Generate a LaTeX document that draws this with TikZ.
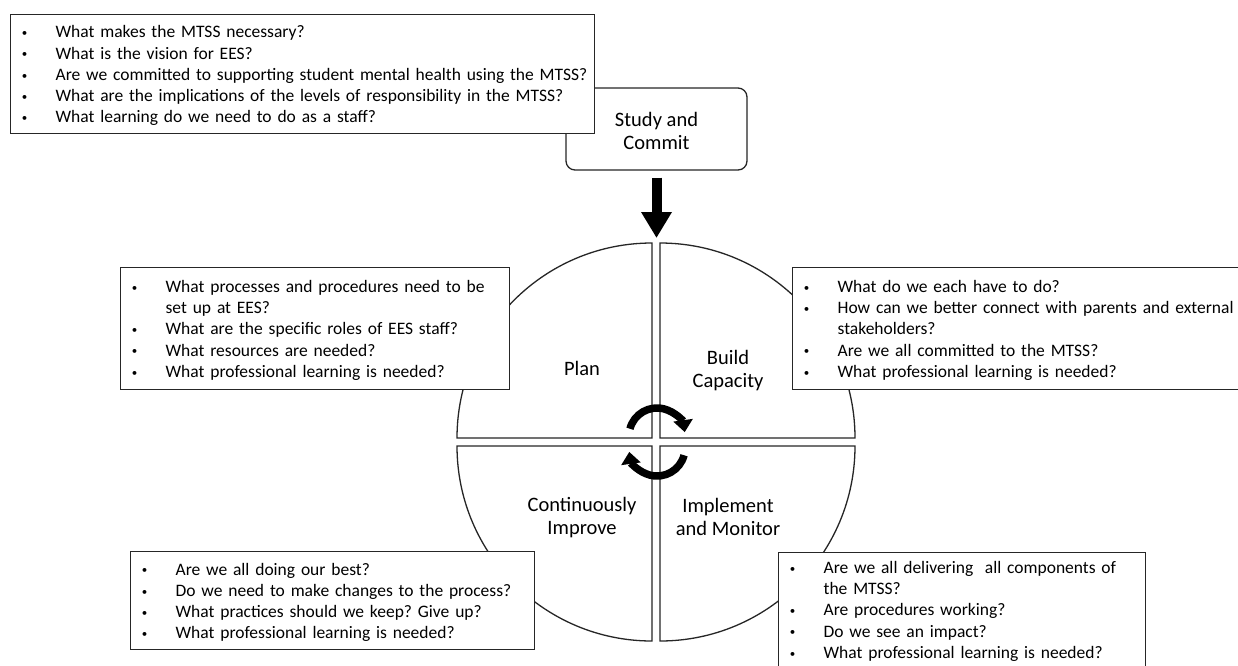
\documentclass[tikz,border=0pt]{standalone}
\usepackage{fontspec}
\setmainfont{Carlito}
\usetikzlibrary{arrows.meta}

\newcommand{\bodyfont}{\frenchspacing\fontsize{17.5}{21.25}\selectfont}
\newcommand{\stagefont}{\fontsize{20.5}{23}\selectfont}
% bullet list: small bullet column, then the item text
\newenvironment{qlist}{\begin{tabular}{@{\hspace{11.2pt}}p{33.8pt}@{}l@{}}}{\end{tabular}}
\newcommand{\qb}{\raisebox{1.2pt}{\fontsize{11}{11}\selectfont\textbullet}}
% lower the list slightly inside its box, keeping the box size
\newcommand{\drop}[1]{\raisebox{-2pt}[\height][\depth]{#1}}

\tikzset{
  outline/.style={draw=black!85, line width=1.3pt},
  qbox/.style={outline, fill=white, anchor=north west, inner sep=0pt,
               align=left, font=\bodyfont},
  stagebox/.style={outline, fill=white, rounded corners=9pt, inner sep=0pt,
                   minimum width=181pt, minimum height=82pt},
  stagelabel/.style={align=center, font=\stagefont, inner sep=0pt},
  quadrant/.style={outline, fill=white},
  bigarrow/.style={line width=10pt, -{Triangle[width=29pt,length=26pt]}},
  cyclearrow/.style={line width=7.5pt, -{Triangle[width=19pt,length=12pt]}}
}

\begin{document}
\begin{tikzpicture}[x=1pt,y=1pt]
\useasboundingbox (0,0) rectangle (1238,-665);

% the four quadrants of the cycle wheel
\draw[quadrant] (652,-438) -- (652,-243) arc[start angle=90, end angle=180, radius=195] -- cycle;
\draw[quadrant] (660,-438) -- (855,-438) arc[start angle=0, end angle=90, radius=195] -- cycle;
\draw[quadrant] (652,-446) -- (457,-446) arc[start angle=180, end angle=270, radius=195] -- cycle;
\draw[quadrant] (660,-446) -- (660,-641) arc[start angle=270, end angle=360, radius=195] -- cycle;

% stage names
\node[stagelabel] (plan) at (582,-368) {Plan};
\node[stagelabel] (build) at (728,-370.5) {Build\\Capacity};
\node[stagelabel] (improve) at (582,-517.5) {Continuously\\Improve};
\node[stagelabel] (implement) at (728,-516.5) {Implement\\and Monitor};

% circular arrows at the hub
\coordinate (hubtop) at (657,-436);
\coordinate (hubbottom) at (657,-448);
\draw[cyclearrow] ([shift={(165:28)}]hubtop) arc[start angle=165, end angle=8, radius=28];
\draw[cyclearrow] ([shift={(-15:28)}]hubbottom) arc[start angle=-15, end angle=-172, radius=28];

% entry stage and its arrow into the wheel
\node[stagebox] (study) at (656.5,-129) {};
\node[stagelabel] (studylabel) at ([yshift=-2pt]study.center) {Study and\\Commit};
\coordinate (wheeltop) at (656.5,-238);
\draw[bigarrow] ([yshift=-7pt]study.south) -- (wheeltop);

% question boxes
\node[qbox, text width=584pt, minimum height=119pt] (qstudy) at (10,-14) {\drop{%
\begin{qlist}
\qb & What makes the MTSS necessary?\\
\qb & What is the vision for EES?\\
\qb & Are we committed to supporting student mental health using the MTSS?\\
\qb & What are the implications of the levels of responsibility in the MTSS?\\
\qb & What learning do we need to do as a staff?
\end{qlist}}};

\node[qbox, text width=389pt, minimum height=122pt] (qplan) at (120,-267) {\drop{%
\begin{qlist}
\qb & What processes and procedures need to be\\
    & set up at EES?\\
\qb & What are the specific roles of EES staff?\\
\qb & What resources are needed?\\
\qb & What professional learning is needed?
\end{qlist}}};

\node[qbox, text width=460pt, minimum height=122pt] (qbuild) at (792,-267) {\drop{%
\begin{qlist}
\qb & What do we each have to do?\\
\qb & How can we better connect with parents and external\\
    & stakeholders?\\
\qb & Are we all committed to the MTSS?\\
\qb & What professional learning is needed?
\end{qlist}}};

\node[qbox, text width=404pt, minimum height=98pt] (qimprove) at (130,-551) {\drop{%
\begin{qlist}
\qb & Are we all doing our best?\\
\qb & Do we need to make changes to the process?\\
\qb & What practices should we keep? Give up?\\
\qb & What professional learning is needed?
\end{qlist}}};

\node[qbox, text width=367pt, minimum height=114pt] (qimplement) at (778,-552) {\drop{%
\begin{qlist}
\qb & Are we all delivering\ \ all components of\\
    & the MTSS?\\
\qb & Are procedures working?\\
\qb & Do we see an impact?\\
\qb & What professional learning is needed?
\end{qlist}}};
\end{tikzpicture}
\end{document}
